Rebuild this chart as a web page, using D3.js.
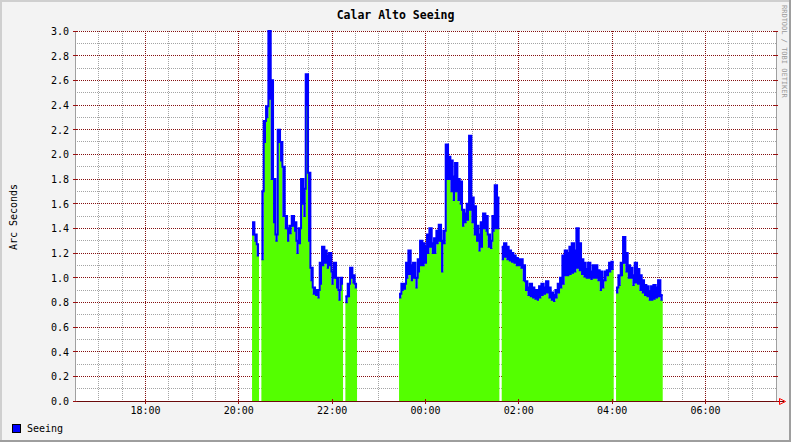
<!DOCTYPE html>
<html lang="en">
<head>
<meta charset="UTF-8" />
<script src="https://d3js.org/d3.v7.min.js"></script>
<title>Calar Alto Seeing</title>
<style>
  body { margin: 0; background: #fff; }
  text { font-family: "DejaVu Sans Mono", monospace; }
</style>
</head>
<body>
<div id="chart"></div>
<script>
// chart data
var title = "Calar Alto Seeing";
var yTitle = "Arc Seconds";
var seriesName = "Seeing";
var watermark = "RRDTOOL / TOBI OETIKER";

// one reading every 3 minutes starting at 20:17, null = no data
// high = top of the blue trace, low = top of the green fill in that slot
var firstSample = "20:17";
var stepMinutes = 3;
var seeingHigh = [
  1.45, 1.35, 1.27, null,
  1.70, 2.27, 2.39, 3.00, 2.60, 1.80, 1.35, 2.20, 2.10, 1.90, 1.50, 1.40, 1.42, 1.50, 1.45, 1.30,
  1.40, 1.80, 1.72, 2.65, 1.85, 1.08, 0.92, 0.90, 0.90, 1.12, 1.25, 1.22, 1.18, 1.20, 1.05, 1.12, 1.00, 0.90, 1.00,
  null,
  0.85, 0.95, 1.08, 1.02, 0.95,
  null, null, null, null, null, null, null, null, null, null, null, null, null, null, null, null, null, null,
  0.87, 0.95, 0.95, 1.12, 1.22, 1.10, 1.12, 1.00, 1.15, 1.30, 1.28, 1.25, 1.35, 1.40,
  1.28, 1.32, 1.38, 1.43, 1.30, 1.38, 2.08, 1.98, 1.95, 1.82, 1.93, 1.80, 1.78, 1.55, 1.52, 1.60,
  2.15, 1.65, 1.58, 1.42, 1.35, 1.45, 1.52, 1.50, 1.35, 1.30, 1.50, 1.75, 1.65, null,
  1.25, 1.28, 1.25, 1.22, 1.20, 1.18, 1.16, 1.15,
  1.15, 1.10, 0.97, 0.92, 0.95, 0.92, 0.90, 0.90, 0.93, 0.95, 0.92, 0.97, 0.92, 0.88, 0.86, 0.90,
  0.95, 1.00, 1.18, 1.22, 1.20, 1.25, 1.28, 1.22, 1.40, 1.28, 1.15, 1.12, 1.07, 1.12, 1.05, 1.10, 1.10, 1.06,
  1.05, 0.98, 1.05, 1.06, 1.12, 1.13, null,
  0.92, 1.02, 1.12, 1.33, 1.20, 1.10, 1.08, 1.02, 1.12, 1.07, 1.02, 0.98, 0.94, 0.93, 0.89, 0.93,
  0.94, 0.92, 0.98, 0.86
];
var seeingLow = [
  1.35, 1.30, 1.18, null,
  1.15, 2.10, 2.30, 2.45, 1.80, 1.45, 1.30, 2.10, 1.95, 1.50, 1.40, 1.30, 1.36, 1.42, 1.38, 1.20,
  1.28, 1.60, 1.50, 2.40, 1.30, 0.98, 0.87, 0.86, 0.84, 0.95, 1.10, 1.12, 1.08, 1.10, 0.95, 1.00, 0.92, 0.82, 0.95,
  null,
  0.80, 0.85, 1.00, 0.96, 0.92,
  null, null, null, null, null, null, null, null, null, null, null, null, null, null, null, null, null, null,
  0.84, 0.90, 0.91, 1.00, 1.03, 0.98, 1.00, 0.92, 1.05, 1.10, 1.10, 1.12, 1.20, 1.25,
  1.20, 1.20, 1.28, 1.30, 1.05, 1.28, 1.80, 1.80, 1.70, 1.63, 1.70, 1.63, 1.60, 1.42, 1.45, 1.47,
  1.55, 1.45, 1.35, 1.30, 1.22, 1.25, 1.40, 1.38, 1.25, 1.24, 1.38, 1.40, 1.40, null,
  1.15, 1.17, 1.15, 1.14, 1.13, 1.12, 1.10, 1.10,
  1.08, 0.98, 0.90, 0.86, 0.85, 0.84, 0.83, 0.82, 0.84, 0.86, 0.87, 0.88, 0.84, 0.82, 0.81, 0.84,
  0.88, 0.92, 0.95, 1.02, 1.02, 1.03, 1.04, 1.05, 1.08, 1.06, 1.03, 1.01, 1.00, 1.00, 0.99, 1.00, 1.00, 0.98,
  0.90, 0.92, 0.98, 1.02, 1.05, 1.07, null,
  0.88, 0.94, 1.02, 1.12, 1.05, 1.00, 1.00, 0.94, 0.96, 0.95, 0.90, 0.88, 0.86, 0.85, 0.82, 0.82,
  0.83, 0.84, 0.85, 0.82
];

var yTickValues = [0, 0.2, 0.4, 0.6, 0.8, 1.0, 1.2, 1.4, 1.6, 1.8, 2.0, 2.2, 2.4, 2.6, 2.8, 3.0];
var xTickLabels = ["18:00", "20:00", "22:00", "00:00", "02:00", "04:00", "06:00"];
var viewStart = "16:29:22";
var viewHours = 15;

// layout
var width = 791, height = 442;
var plotLeft = 75, plotRight = 775, plotTop = 31, plotBottom = 401;

function parseTime(s) {
  var p = s.split(":").map(Number);
  var day = p[0] < 12 ? 2 : 1;
  return new Date(2000, 0, day, p[0], p[1], p[2] || 0);
}

var t0 = parseTime(viewStart);
var t1 = d3.timeHour.offset(t0, viewHours);

var x = d3.scaleTime().domain([t0, t1]).range([plotLeft, plotRight]);
var y = d3.scaleLinear().domain([0, 3]).range([plotBottom, plotTop]);

function px(v) { return Math.floor(v) + 0.5; }

var svg = d3.select("#chart").append("svg")
  .attr("width", width).attr("height", height)
  .style("display", "block");

// canvas + shaded frame
svg.append("rect").attr("width", width).attr("height", height).attr("fill", "#f3f3f3");
svg.append("path").attr("d", "M0,1H790M1,0V441").attr("stroke", "#cfcfcf").attr("stroke-width", 2);
svg.append("path").attr("d", "M0,441H791M790,0V442").attr("stroke", "#9e9e9e").attr("stroke-width", 2);

svg.append("rect").attr("x", plotLeft).attr("y", plotTop)
  .attr("width", plotRight - plotLeft + 1).attr("height", plotBottom - plotTop)
  .attr("fill", "#fff");

var grid = svg.append("g").attr("shape-rendering", "crispEdges");

// minor grid (skipping the major positions)
var minorY = d3.range(0, 31).filter(function (k) { return k % 2; }).map(function (k) { return k / 10; });
grid.selectAll("line.ymin").data(minorY).enter().append("line")
  .attr("x1", plotLeft).attr("x2", plotRight + 1)
  .attr("y1", function (d) { return px(y(d)); }).attr("y2", function (d) { return px(y(d)); })
  .attr("stroke", "#a4a4a4").attr("stroke-dasharray", "1,1");

var minorX = d3.timeMinute.every(30).range(t0, t1)
  .filter(function (d) { return !(d.getMinutes() === 0 && d.getHours() % 2 === 0); });
grid.selectAll("line.xmin").data(minorX).enter().append("line")
  .attr("x1", function (d) { return px(x(d)); }).attr("x2", function (d) { return px(x(d)); })
  .attr("y1", plotTop).attr("y2", plotBottom)
  .attr("stroke", "#a4a4a4").attr("stroke-dasharray", "1,1");

// major grid
var majorX = xTickLabels.map(parseTime);
grid.selectAll("line.ymaj").data(yTickValues).enter().append("line")
  .attr("x1", plotLeft).attr("x2", plotRight + 1)
  .attr("y1", function (d) { return px(y(d)); }).attr("y2", function (d) { return px(y(d)); })
  .attr("stroke", "#851010").attr("stroke-dasharray", "1,1");
grid.selectAll("line.xmaj").data(majorX).enter().append("line")
  .attr("x1", function (d) { return px(x(d)); }).attr("x2", function (d) { return px(x(d)); })
  .attr("y1", plotTop).attr("y2", plotBottom)
  .attr("stroke", "#851010").attr("stroke-dasharray", "1,1");

// data as steps
var start = parseTime(firstSample);
var pts = [];
seeingHigh.forEach(function (v, i) {
  var lo = seeingLow[i];
  pts.push({ t: d3.timeMinute.offset(start, i * stepMinutes), hi: v, lo: lo });
  pts.push({ t: d3.timeMinute.offset(start, (i + 1) * stepMinutes), hi: v, lo: lo });
});

function ok(d) { return d.hi != null; }

var fill = d3.area().defined(ok)
  .x(function (d) { return x(d.t); })
  .y0(y(0))
  .y1(function (d) { return y(d.lo); });

var band = d3.area().defined(ok)
  .x(function (d) { return x(d.t); })
  .y0(function (d) { return y(d.lo) + 1; })
  .y1(function (d) { return y(d.hi); });

var line = d3.line().defined(ok)
  .x(function (d) { return x(d.t); })
  .y(function (d) { return y(d.hi); });

svg.append("path").datum(pts).attr("d", fill).attr("fill", "#54ff00");
svg.append("path").datum(pts).attr("d", band).attr("fill", "#0000ff");
svg.append("path").datum(pts).attr("d", line)
  .attr("fill", "none").attr("stroke", "#0000ff").attr("stroke-width", 2);

// axes
var ax = svg.append("g").attr("shape-rendering", "crispEdges");
ax.append("line").attr("x1", px(plotLeft)).attr("x2", px(plotLeft)).attr("y1", plotTop).attr("y2", plotBottom + 1)
  .attr("stroke", "#a0a0a0");
ax.append("line").attr("x1", px(plotRight + 1)).attr("x2", px(plotRight + 1)).attr("y1", plotTop).attr("y2", plotBottom + 1)
  .attr("stroke", "#a0a0a0");
ax.append("line").attr("x1", plotLeft).attr("x2", 784).attr("y1", px(plotBottom)).attr("y2", px(plotBottom))
  .attr("stroke", "#6a0a0a");
ax.selectAll("line.lt").data(yTickValues).enter().append("line")
  .attr("x1", plotLeft - 2).attr("x2", plotLeft + 2)
  .attr("y1", function (d) { return px(y(d)); }).attr("y2", function (d) { return px(y(d)); })
  .attr("stroke", "#9a1010");
ax.selectAll("line.rt").data(yTickValues).enter().append("line")
  .attr("x1", plotRight - 1).attr("x2", plotRight + 3)
  .attr("y1", function (d) { return px(y(d)); }).attr("y2", function (d) { return px(y(d)); })
  .attr("stroke", "#9a1010");
ax.selectAll("line.bt").data(majorX).enter().append("line")
  .attr("x1", function (d) { return px(x(d)); }).attr("x2", function (d) { return px(x(d)); })
  .attr("y1", plotBottom - 2).attr("y2", plotBottom + 3)
  .attr("stroke", "#9a1010");

// arrow on the time axis
svg.append("path").attr("d", "M779.5,398.5L785.5,401.5L779.5,404.5Z")
  .attr("fill", "none").attr("stroke", "#ff0000");

// labels
svg.selectAll("text.ylab").data(yTickValues).enter().append("text")
  .attr("x", 69).attr("y", function (d) { return y(d) + 4; })
  .attr("text-anchor", "end").attr("font-size", "10px").attr("fill", "#000")
  .text(function (d) { return d3.format(".1f")(d); });

svg.selectAll("text.xlab").data(xTickLabels).enter().append("text")
  .attr("x", function (d) { return x(parseTime(d)); }).attr("y", 414)
  .attr("text-anchor", "middle").attr("font-size", "10px").attr("fill", "#000")
  .text(function (d) { return d; });

svg.append("text").attr("x", 395.5).attr("y", 19)
  .attr("text-anchor", "middle").attr("font-size", "11.5px").attr("font-weight", "bold")
  .text(title);

svg.append("text")
  .attr("transform", "translate(17,217) rotate(-90)")
  .attr("text-anchor", "middle").attr("font-size", "10px")
  .text(yTitle);

svg.append("text")
  .attr("transform", "translate(782,5) rotate(90)")
  .attr("font-size", "7px").attr("fill", "#9a9a9a")
  .text(watermark);

// legend
svg.append("rect").attr("x", 12.5).attr("y", 424.5).attr("width", 8).attr("height", 8)
  .attr("fill", "#0000ff").attr("stroke", "#000");
svg.append("text").attr("x", 27).attr("y", 432).attr("font-size", "10px").text(seriesName);
</script>
</body>
</html>
